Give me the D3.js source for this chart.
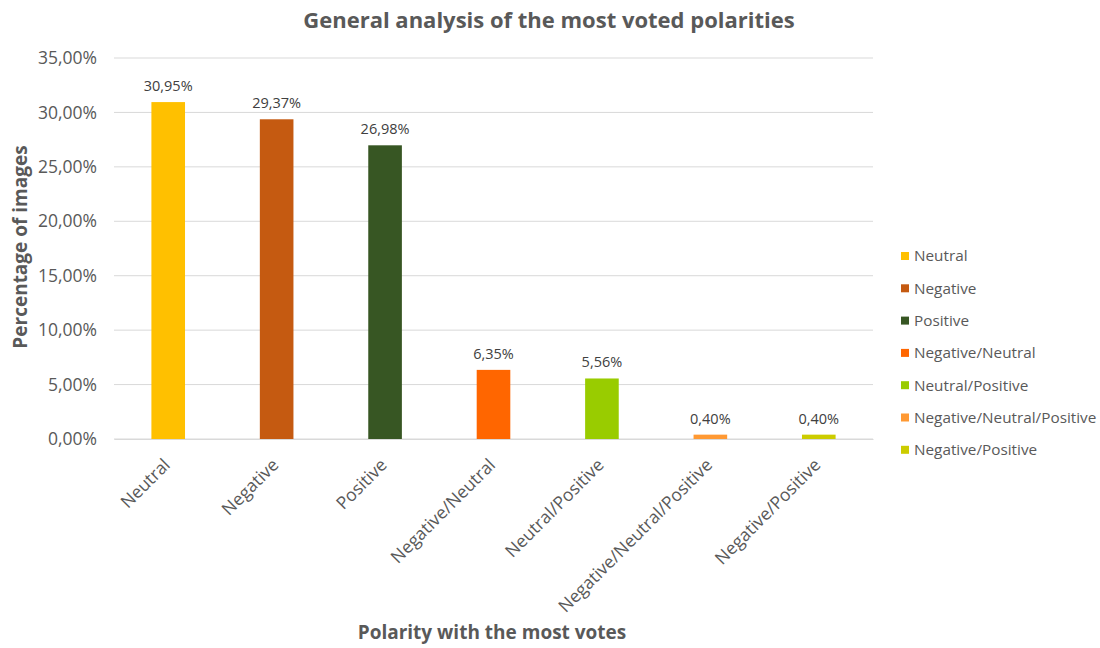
<!DOCTYPE html>
<html><head><meta charset="utf-8">
<script src="https://cdn.jsdelivr.net/npm/d3@7"></script>
<style>body{margin:0;background:#fff;font-family:"Open Sans",sans-serif;} svg text{font-family:"Open Sans",sans-serif;}</style>
</head><body><svg id="c" width="1100" height="648"></svg>
<script>
const categories = ["Neutral","Negative","Positive","Negative/Neutral","Neutral/Positive","Negative/Neutral/Positive","Negative/Positive"];
const values = [30.95, 29.37, 26.98, 6.35, 5.56, 0.40, 0.40];
const colors = ["#FFC000","#C55A11","#375623","#FF6600","#99CC00","#FF9933","#CCCC00"];
const yTicks = [0,5,10,15,20,25,30,35];
const fmt = v => v.toFixed(2).replace(".", ",") + "%";

const svg = d3.select("#c");
const m = {l:114, r:873, t:58, b:439};
const x = d3.scaleBand().domain(categories).range([m.l, m.r]).paddingInner(0.69).paddingOuter(0.345);
const y = d3.scaleLinear().domain([0,35]).range([m.b, m.t]);
const grey = "#595959";
const FF = "'Open Sans',sans-serif";

svg.append("g").selectAll("line").data(yTicks).join("line")
  .attr("x1", m.l).attr("x2", m.r).attr("y1", d=>y(d)).attr("y2", d=>y(d))
  .attr("stroke", "#D9D9D9").attr("stroke-width", 1);

const yAxis = svg.append("g").attr("transform", `translate(${m.l},0)`)
  .call(d3.axisLeft(y).tickValues(yTicks).tickFormat(fmt).tickSize(0).tickPadding(17));
yAxis.attr("font-family", FF).attr("font-size", null);
yAxis.select(".domain").remove();
yAxis.selectAll("text").attr("fill", grey).style("font-size","17.5px");

svg.append("g").selectAll("rect").data(categories).join("rect")
  .attr("x", d=>x(d)).attr("width", x.bandwidth())
  .attr("y", (d,i)=>y(values[i])).attr("height", (d,i)=>y(0)-y(values[i]))
  .attr("fill", (d,i)=>colors[i]);

svg.append("g").selectAll("text").data(categories).join("text")
  .attr("x", d=>x(d)+x.bandwidth()/2).attr("y", (d,i)=>y(values[i])-11)
  .attr("text-anchor","middle").attr("fill", "#404040").style("font-size","14.5px")
  .text((d,i)=>fmt(values[i]));

const xAxis = svg.append("g").attr("transform", `translate(0,${m.b})`)
  .call(d3.axisBottom(x).tickSize(0).tickPadding(0));
xAxis.attr("font-family", FF).attr("font-size", null);
xAxis.select(".domain").attr("stroke","#D9D9D9");
xAxis.selectAll("text").attr("fill", grey).style("font-size","17.5px")
  .attr("text-anchor","end").attr("dy", null).attr("y", 0)
  .attr("transform","translate(3,27) rotate(-45)");

svg.append("text").attr("x", 549).attr("y", 28).attr("text-anchor","middle")
  .attr("fill", grey).style("font-size","22px").style("font-weight","bold")
  .text("General analysis of the most voted polarities");
svg.append("text").attr("transform","translate(27,247) rotate(-90)").attr("text-anchor","middle")
  .attr("fill", grey).style("font-size","19px").style("font-weight","bold")
  .text("Percentage of images");
svg.append("text").attr("x", 492).attr("y", 639).attr("text-anchor","middle")
  .attr("fill", grey).style("font-size","19px").style("font-weight","bold")
  .text("Polarity with the most votes");

const leg = svg.append("g").selectAll("g").data(categories).join("g")
  .attr("transform", (d,i)=>`translate(901,${256 + i*32.3})`);
leg.append("rect").attr("x",0).attr("y",-4).attr("width",8).attr("height",8).attr("fill",(d,i)=>colors[i]);
leg.append("text").attr("x",13).attr("y",0).attr("dy","0.35em").attr("fill",grey).style("font-size","15.3px").text(d=>d);
</script></body></html>
